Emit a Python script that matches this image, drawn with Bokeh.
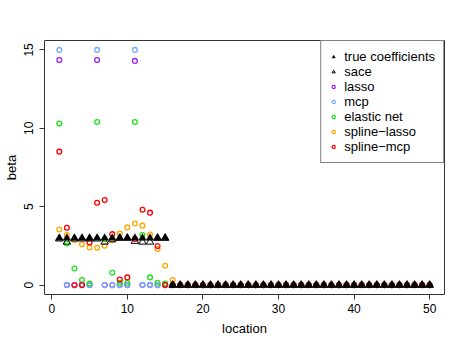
from bokeh.plotting import figure
from bokeh.models import Range1d, Legend, LegendItem, FixedTicker
from bokeh.embed import file_html
from bokeh.resources import INLINE

# ---- data -------------------------------------------------------------
location = list(range(1, 51))

true_coef = [3, 3, 3, 3, 3, 3, 3, 3, 3, 3, 3, 3, 3, 3, 3,
             0, 0, 0, 0, 0, 0, 0, 0, 0, 0, 0, 0, 0, 0, 0, 0, 0, 0, 0, 0,
             0, 0, 0, 0, 0, 0, 0, 0, 0, 0, 0, 0, 0, 0, 0]
sace = [2.95, 2.75, 2.95, 2.95, 2.95, 2.95, 2.75, 2.9, 3.0, 3.0, 2.8, 2.75, 2.75, 3.0, 3.0,
        0, 0, 0, 0, 0, 0, 0, 0, 0, 0, 0, 0, 0, 0, 0, 0, 0, 0, 0, 0,
        0, 0, 0, 0, 0, 0, 0, 0, 0, 0, 0, 0, 0, 0, 0]
lasso = [14.35, 0, 0, 0, 0, 14.35, 0, 0, 0, 0, 14.3, 0, 0, 0, 0,
         0, 0, 0, 0, 0, 0, 0, 0, 0, 0, 0, 0, 0, 0, 0, 0, 0, 0, 0, 0,
         0, 0, 0, 0, 0, 0, 0, 0, 0, 0, 0, 0, 0, 0, 0]
mcp = [15.0, 0, 0, 0, 0, 15.0, 0, 0, 0, 0, 15.0, 0, 0, 0, 0,
       0, 0, 0, 0, 0, 0, 0, 0, 0, 0, 0, 0, 0, 0, 0, 0, 0, 0, 0, 0,
       0, 0, 0, 0, 0, 0, 0, 0, 0, 0, 0, 0, 0, 0, 0]
elastic_net = [10.3, 2.66, 1.06, 0.32, 0.1, 10.4, 2.94, 0.79, 0.15, 0.15, 10.4, 3.19, 0.49, 0.15, 0.1,
               0, 0, 0, 0, 0, 0, 0, 0, 0, 0, 0, 0, 0, 0, 0, 0, 0, 0, 0, 0,
               0, 0, 0, 0, 0, 0, 0, 0, 0, 0, 0, 0, 0, 0, 0]
spline_lasso = [3.55, 3.19, 2.87, 2.6, 2.4, 2.38, 2.51, 2.87, 3.28, 3.68, 3.93, 3.79, 3.23, 2.3, 1.23,
                0.32, 0, 0, 0, 0, 0, 0, 0, 0, 0, 0, 0, 0, 0, 0, 0, 0, 0, 0, 0,
                0, 0, 0, 0, 0, 0, 0, 0, 0, 0, 0, 0, 0, 0, 0]
spline_mcp = [8.51, 3.66, 0, 0, 2.72, 5.25, 5.42, 3.25, 0.36, 0.49, 2.94, 4.81, 4.62, 2.49, 0,
              0, 0, 0, 0, 0, 0, 0, 0, 0, 0, 0, 0, 0, 0, 0, 0, 0, 0, 0, 0,
              0, 0, 0, 0, 0, 0, 0, 0, 0, 0, 0, 0, 0, 0, 0]

x_ticks = [0, 10, 20, 30, 40, 50]
y_ticks = [0, 5, 10, 15]

FONT = "Liberation Sans"

# ---- ranges (R style 4% padding) ---------------------------------------
xmin, xmax = min(location), max(location)
all_y = true_coef + sace + lasso + mcp + elastic_net + spline_lasso + spline_mcp
ymin, ymax = min(all_y), max(all_y)
xpad = 0.04 * (xmax - xmin)
ypad = 0.04 * (ymax - ymin)
xr = Range1d(xmin - xpad, xmax + xpad)
yr = Range1d(ymin - ypad, ymax + ypad)

p = figure(width=457, height=338,
           min_border_left=42, min_border_right=13,
           min_border_top=40, min_border_bottom=44,
           x_range=xr, y_range=yr,
           output_backend="svg", toolbar_location=None)

p.background_fill_color = "white"
p.border_fill_color = "white"
p.outline_line_color = "#333333"
p.outline_line_width = 1
p.xgrid.visible = False
p.ygrid.visible = False

# ---- circles ----------------------------------------------------------
circ = dict(size=4.8, fill_color=None, line_width=1.3)
r_lasso = p.scatter(location, lasso, marker="circle", line_color="#A020F0", **circ)
r_mcp = p.scatter(location, mcp, marker="circle", line_color="#74AAFF", **circ)
r_en = p.scatter(location, elastic_net, marker="circle", line_color="#1EE01E", **circ)
r_sl = p.scatter(location, spline_lasso, marker="circle", line_color="#FFA500", **circ)
r_sm = p.scatter(location, spline_mcp, marker="circle", line_color="#FF0000", **circ)

# ---- triangles --------------------------------------------------------
r_true = p.scatter(location, true_coef, marker="triangle", size=7.5,
                   fill_color="black", line_color="black", line_width=0.5)
r_sace = p.scatter(location, sace, marker="triangle", size=7.5,
                   fill_color=None, line_color="black", line_width=1)

# ---- axes -------------------------------------------------------------
for ax in (p.xaxis[0], p.yaxis[0]):
    ax.axis_line_color = None
    ax.major_tick_out = 5
    ax.major_tick_in = 0
    ax.minor_tick_line_color = None
    ax.major_tick_line_color = "#333333"
    ax.major_label_text_font = FONT
    ax.major_label_text_font_size = "12px"
    ax.major_label_text_color = "black"
    ax.axis_label_text_font = FONT
    ax.axis_label_text_font_size = "13px"
    ax.axis_label_text_font_style = "normal"
    ax.axis_label_text_color = "black"

p.xaxis.ticker = FixedTicker(ticks=x_ticks)
p.yaxis.ticker = FixedTicker(ticks=y_ticks)
p.xaxis.axis_label = "location"
p.xaxis.major_label_standoff = 4
p.xaxis.axis_label_standoff = 5
p.yaxis.axis_label = "beta"
p.yaxis.major_label_orientation = "vertical"
p.yaxis.major_label_standoff = 6
p.yaxis.axis_label_standoff = 3

# ---- legend -----------------------------------------------------------
legend = Legend(items=[
    LegendItem(label="true coefficients", renderers=[r_true]),
    LegendItem(label="sace", renderers=[r_sace]),
    LegendItem(label="lasso", renderers=[r_lasso]),
    LegendItem(label="mcp", renderers=[r_mcp]),
    LegendItem(label="elastic net", renderers=[r_en]),
    LegendItem(label="spline\u2212lasso", renderers=[r_sl]),
    LegendItem(label="spline\u2212mcp", renderers=[r_sm]),
], location="top_right")
legend.margin = 0
legend.padding = 8
legend.spacing = 0
legend.label_height = 15
legend.glyph_height = 15
legend.glyph_width = 8
legend.label_standoff = 7
legend.label_text_font = FONT
legend.label_text_font_size = "13px"
legend.label_text_color = "black"
legend.border_line_color = "black"
legend.border_line_width = 1
legend.background_fill_color = "white"
legend.background_fill_alpha = 1
p.add_layout(legend)

open("out.html", "w").write(file_html(p, INLINE))
